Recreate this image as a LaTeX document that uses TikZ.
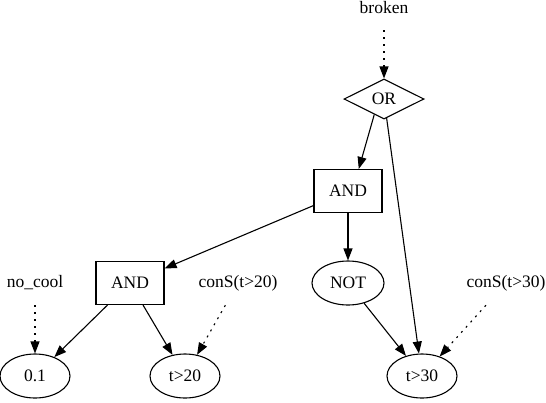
\documentclass[tikz,border=0pt]{standalone}
\usepackage{fontspec}
\setmainfont{Liberation Serif}
\usetikzlibrary{shapes.geometric,arrows.meta}
\begin{document}
\begin{tikzpicture}[x=1pt,y=-1pt,
  every node/.style={font=\fontsize{17.5}{20}\selectfont},
  txt/.style={inner sep=0pt,minimum width=68pt,minimum height=44pt},
  ell/.style={draw,ellipse,line width=1.1pt,inner sep=0pt,minimum width=70pt,minimum height=44pt},
  boxn/.style={draw,rectangle,line width=1.1pt,inner sep=0pt,minimum width=68pt,minimum height=43pt},
  gate/.style={draw,diamond,line width=1.1pt,inner sep=0pt,shape aspect=2,minimum width=80pt,minimum height=40pt},
  edge/.style={line width=1.1pt,-{Triangle[length=12pt,width=9pt]}},
  dotedge/.style={edge,dash pattern=on 2pt off 5pt}]
\useasboundingbox (0,0) rectangle (546,402);
\node[txt] (broken) at (384,8) {broken};
\node[gate] (or) at (384,99) {OR};
\node[boxn] (and1) at (348,191) {AND};
\node[boxn] (and2) at (130,283) {AND};
\node[ell,minimum width=72pt] (not) at (348,283) {NOT};
\node[txt] (nocool) at (35,283) {no\_cool};
\node[txt] (c20) at (238,283) {conS(t>20)};
\node[txt] (c30) at (506,283) {conS(t>30)};
\node[ell] (p01) at (35,376) {0.1};
\node[ell] (t20) at (185,376) {t>20};
\node[ell] (t30) at (422,376) {t>30};
\draw[dotedge] (broken) -- (or);
\draw[edge] (or.-122) -- (and1.64);
\draw[edge] (or) -- (t30);
\draw[edge] (and1) -- (and2);
\draw[edge] (and1) -- (not);
\draw[edge] (and2) -- (p01);
\draw[edge] (and2) -- (t20);
\draw[edge] (not) -- (t30);
\draw[dotedge] (nocool) -- (p01);
\draw[dotedge] (c20) -- (t20);
\draw[dotedge] (c30) -- (t30);
\end{tikzpicture}
\end{document}
